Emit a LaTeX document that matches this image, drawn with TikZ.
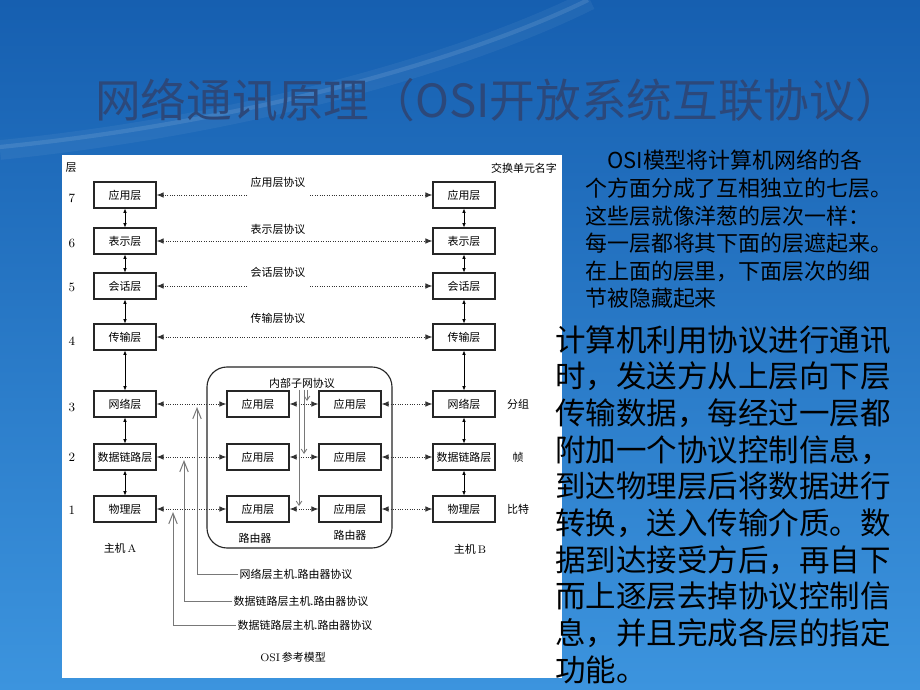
\documentclass[tikz,border=0pt]{standalone}
\usepackage{fontspec}
\newfontfamily\cjk{Noto Sans CJK SC}
\usetikzlibrary{arrows.meta}
\definecolor{bgtop}{RGB}{22,95,176}
\definecolor{bgbot}{RGB}{60,148,222}
\definecolor{titlecol}{RGB}{44,72,122}
\definecolor{wiregray}{RGB}{120,120,120}

\begin{document}
\begin{tikzpicture}[x=0.025cm, y=-0.025cm,
    layer/.style={draw=black!85, line width=0.8pt, fill=white, minimum width=1.55cm,
        minimum height=0.65cm, inner sep=0pt, font=\cjk\fontsize{7.8}{9}\selectfont},
    lbl/.style={inner sep=1pt, font=\cjk\fontsize{7.8}{9}\selectfont},
    num/.style={inner sep=1pt, font=\fontsize{9}{10}\selectfont},
    stack/.style={{Latex[length=3pt,width=2.6pt]}-{Latex[length=3pt,width=2.6pt]}, line width=0.5pt},
    peer/.style={densely dotted, line width=0.7pt, draw=black!80,
        {Latex[length=5pt,width=4pt]}-{Latex[length=5pt,width=4pt]}},
    peerto/.style={densely dotted, line width=0.7pt, draw=black!80, -{Latex[length=5pt,width=4pt]}},
    subnet/.style={draw=wiregray, line width=0.6pt, -{Straight Barb[length=3pt,width=4pt]}},
    hostlink/.style={draw=wiregray, line width=0.7pt, -{Straight Barb[length=7.5pt,width=6pt]}}
]
    \useasboundingbox (0,0) rectangle (920,690);

    % Hintergrund
    \shade[top color=bgtop, bottom color=bgbot] (0,0) rectangle (920,690);
    \draw[white, opacity=0.05, line width=14pt] (0,150) .. controls (250,125) and (470,60) .. (590,0);
    \draw[white, opacity=0.10, line width=3pt] (0,147) .. controls (250,122) and (470,58) .. (588,0);

    % Titel
    \node[anchor=west, inner sep=0pt, text=titlecol, font=\cjk\fontsize{32.5}{36}\selectfont]
        (title) at (95,100) {网络通讯原理（OSI开放系统互联协议）};

    % Weisses Feld
    \fill[white] (62,155) rectangle (562,678);

    % Kopfzeile
    \node[lbl] (hdl) at (71,168) {层};
    \node[lbl] (hdr) at (524,168) {交换单元名字};

    % Host A
    \node[layer] (l7) at (125,195) {应用层};
    \node[layer] (l6) at (125,241) {表示层};
    \node[layer] (l5) at (125,286) {会话层};
    \node[layer] (l4) at (125,337) {传输层};
    \node[layer] (l3) at (125,404) {网络层};
    \node[layer] (l2) at (125,457) {数据链路层};
    \node[layer] (l1) at (125,509) {物理层};

    % Host B
    \node[layer] (r7) at (464,195) {应用层};
    \node[layer] (r6) at (464,241) {表示层};
    \node[layer] (r5) at (464,286) {会话层};
    \node[layer] (r4) at (464,337) {传输层};
    \node[layer] (r3) at (464,404) {网络层};
    \node[layer] (r2) at (464,457) {数据链路层};
    \node[layer] (r1) at (464,509) {物理层};

    % Schichtnummern
    \node[num] (n7) at (72,198) {7};
    \node[num] (n6) at (72,243) {6};
    \node[num] (n5) at (72,287) {5};
    \node[num] (n4) at (72,341) {4};
    \node[num] (n3) at (72,407) {3};
    \node[num] (n2) at (72,457) {2};
    \node[num] (n1) at (72,510) {1};

    % Einheiten
    \node[lbl] (u3) at (518,404) {分组};
    \node[lbl] (u2) at (518,457) {帧};
    \node[lbl] (u1) at (518,509) {比特};

    \node[lbl] (hosta) at (120,548) {主机\,{\rmfamily A}};
    \node[lbl] (hostb) at (470,549) {主机\,{\rmfamily B}};

    % Stapelpfeile
    \foreach \a/\b in {7/6,6/5,5/4,4/3,3/2,2/1} {
        \draw[stack] (l\a) -- (l\b);
        \draw[stack] (r\a) -- (r\b);
    }

    % Protokolle der oberen Schichten
    \node[lbl] (p7) at (278,182) {应用层协议};
    \node[lbl] (p6) at (278,229) {表示层协议};
    \node[lbl] (p5) at (278,272) {会话层协议};
    \node[lbl] (p4) at (278,318) {传输层协议};
    \coordinate (g7l) at (247,195);
    \coordinate (g7r) at (310,195);
    \coordinate (g5l) at (247,286);
    \coordinate (g5r) at (310,286);
    \draw[peerto] (g7l) -- (l7);
    \draw[peerto] (g7r) -- (r7);
    \draw[peer] (l6) -- (r6);
    \draw[peerto] (g5l) -- (l5);
    \draw[peerto] (g5r) -- (r5);
    \draw[peer] (l4) -- (r4);

    % Router
    \draw[line width=0.8pt, black!85, rounded corners=5mm] (207,367) rectangle (392,548);
    \node[lbl] (sub) at (302,383) {内部子网协议};
    \foreach \i/\y in {3/404,2/457,1/509} {
        \node[layer] (ra\i) at (258,\y) {应用层};
        \node[layer] (rb\i) at (350,\y) {应用层};
        \draw[peer] (l\i) -- (ra\i);
        \draw[peer] (ra\i) -- (rb\i);
        \draw[peer] (rb\i) -- (r\i);
    }
    \node[lbl] (rta) at (255,538) {路由器};
    \node[lbl] (rtb) at (350,535) {路由器};

    % Interne Verbindungen
    \coordinate (s3) at (307,401);
    \coordinate (s2) at (304,454);
    \coordinate (s1) at (299,506);
    \draw[subnet] (sub.south -| s3) -- (s3);
    \draw[subnet] (sub.south -| s2) -- (s2);
    \draw[subnet] (sub.south -| s1) -- (s1);

    % Host-Router-Protokolle
    \node[lbl, anchor=west] (h3) at (238,574) {网络层主机.路由器协议};
    \node[lbl, anchor=west] (h2) at (232,601) {数据链路层主机.路由器协议};
    \node[lbl, anchor=west] (h1) at (236,625) {数据链路层主机.路由器协议};
    \coordinate (t3) at (197,407);
    \coordinate (t2) at (184,460);
    \coordinate (t1) at (173,512);
    \draw[hostlink] (h3.west) -| (t3);
    \draw[hostlink] (h2.west) -| (t2);
    \draw[hostlink] (h1.west) -| (t1);

    \node[lbl] (cap) at (293,657) {{\rmfamily OSI}\,参考模型};

    % Text rechts
    \node[anchor=north west, align=left, inner sep=0pt, font=\cjk\fontsize{15.6}{19.6}\selectfont]
        (txta) at (585,150) {\hspace*{1em}OSI模型将计算机网络的各\\个方面分成了互相独立的七层。\\这些层就像洋葱的层次一样：\\每一层都将其下面的层遮起来。\\在上面的层里，下面层次的细\\节被隐藏起来};
    \node[anchor=north west, align=left, inner sep=0pt, font=\cjk\fontsize{21.7}{26.1}\selectfont]
        (txtb) at (555,325) {计算机利用协议进行通讯\\时，发送方从上层向下层\\传输数据，每经过一层都\\附加一个协议控制信息，\\到达物理层后将数据进行\\转换，送入传输介质。数\\据到达接受方后，再自下\\而上逐层去掉协议控制信\\息，并且完成各层的指定\\功能。};
\end{tikzpicture}
\end{document}
